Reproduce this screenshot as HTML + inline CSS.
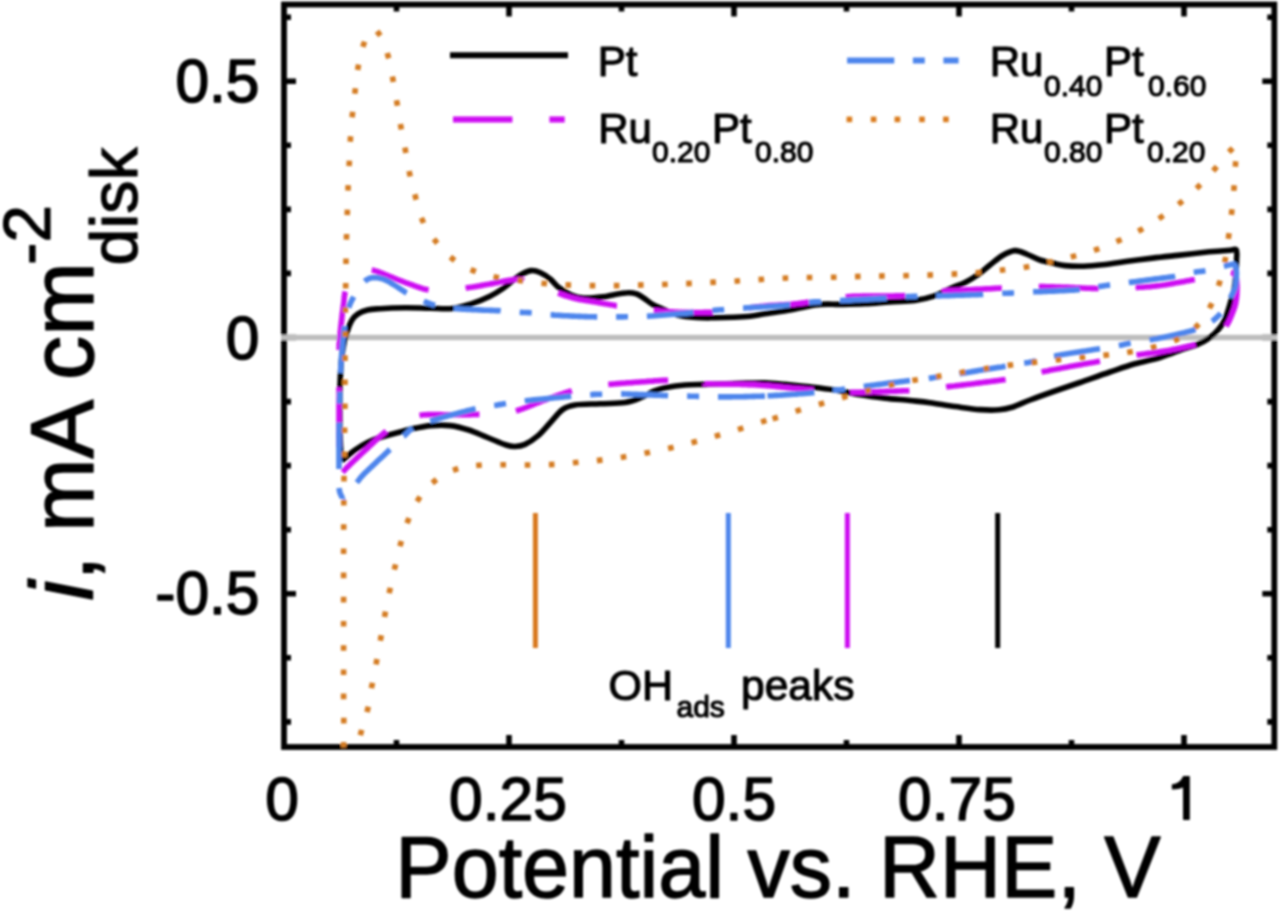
<!DOCTYPE html>
<html><head><meta charset="utf-8"><title>CV chart</title>
<style>html,body{margin:0;padding:0;background:#fff;width:1280px;height:914px;overflow:hidden}svg{display:block;font-family:"Liberation Sans",sans-serif}</style>
</head><body>
<svg width="1280" height="914" viewBox="0 0 1280 914">
<defs><filter id="soft" x="0" y="0" width="1280" height="914" filterUnits="userSpaceOnUse"><feGaussianBlur stdDeviation="0.8"/></filter></defs>
<rect width="1280" height="914" fill="#fff"/>
<g filter="url(#soft)">
<path d="M284,721.9h7M1274.3,721.9h-7M284,657.8h7M1274.3,657.8h-7M284,593.8h12M1274.3,593.8h-12M284,529.7h7M1274.3,529.7h-7M284,465.6h7M1274.3,465.6h-7M284,401.6h7M1274.3,401.6h-7M284,337.5h12M1274.3,337.5h-12M284,273.4h7M1274.3,273.4h-7M284,209.4h7M1274.3,209.4h-7M284,145.3h7M1274.3,145.3h-7M284,81.2h12M1274.3,81.2h-12M284,17.2h7M1274.3,17.2h-7M396.5,747v-7M396.5,4.5v7M509.0,747v-12M509.0,4.5v12M621.5,747v-7M621.5,4.5v7M734.0,747v-12M734.0,4.5v12M846.5,747v-7M846.5,4.5v7M959.0,747v-12M959.0,4.5v12M1071.5,747v-7M1071.5,4.5v7M1184.0,747v-12M1184.0,4.5v12" stroke="#000" stroke-width="5.6" fill="none"/>
<rect x="284" y="4.5" width="990.3" height="742.5" fill="none" stroke="#000" stroke-width="5.8"/>
<line x1="281" y1="337.6" x2="1277" y2="337.6" stroke="#BDBDBD" stroke-width="5.5"/>
<g fill="none" stroke-linejoin="round">
<path d="M341.5,461.0C341.3,457.5 340.5,448.5 340.2,440.0C339.9,431.5 339.8,419.2 339.8,410.0C339.8,400.8 339.7,393.3 340.0,385.0C340.3,376.7 340.8,367.0 341.5,360.0C342.2,353.0 343.0,348.0 344.0,343.0C345.0,338.0 346.4,333.8 347.7,330.0C349.0,326.2 350.3,322.7 352.0,320.0C353.7,317.3 355.4,315.6 358.0,313.9C360.6,312.2 363.8,310.9 367.5,310.0C371.2,309.1 373.8,309.1 380.0,308.7C386.2,308.3 396.7,307.9 405.0,307.8C413.3,307.7 422.1,308.2 430.0,308.3C437.9,308.4 445.6,309.3 452.5,308.5C459.4,307.7 465.0,305.8 471.2,303.8C477.5,301.7 484.8,298.8 490.0,296.2C495.2,293.8 498.3,291.7 502.5,288.8C506.7,285.8 511.7,281.2 515.0,278.8C518.3,276.2 519.8,275.1 522.5,273.8C525.2,272.4 528.3,270.8 531.2,270.6C534.2,270.4 536.9,271.1 540.0,272.5C543.1,273.9 546.9,276.2 550.0,278.8C553.1,281.2 555.2,284.8 558.8,287.5C562.3,290.2 567.1,293.2 571.2,295.0C575.4,296.8 578.5,297.8 583.8,298.1C589.0,298.4 597.3,297.5 602.5,296.9C607.7,296.3 610.8,295.1 615.0,294.4C619.2,293.7 624.0,292.9 627.5,292.8C631.0,292.6 633.5,292.9 636.2,293.8C639.0,294.6 641.0,296.3 643.8,298.1C646.5,299.9 649.4,302.6 652.5,304.4C655.6,306.2 658.3,307.2 662.5,309.0C666.7,310.8 671.9,313.6 677.5,315.0C683.1,316.4 690.0,317.0 696.2,317.5C702.5,318.0 708.8,317.8 715.0,317.8C721.2,317.7 727.9,317.5 733.8,317.2C739.6,317.0 744.8,316.8 750.0,316.2C755.2,315.7 758.3,314.8 765.0,313.8C771.7,312.7 783.8,311.0 790.0,310.0C796.2,309.0 798.3,308.3 802.5,307.5C806.7,306.7 810.8,305.6 815.0,305.0C819.2,304.4 823.3,304.2 827.5,304.1C831.7,304.0 833.8,304.5 840.0,304.4C846.2,304.3 856.7,304.2 865.0,303.8C873.3,303.3 881.7,302.5 890.0,301.9C898.3,301.3 907.7,301.3 915.0,300.4C922.3,299.5 927.5,298.4 933.8,296.2C940.0,294.1 947.3,289.8 952.5,287.5C957.7,285.2 960.8,284.6 965.0,282.5C969.2,280.4 973.3,277.9 977.5,275.0C981.7,272.1 985.8,268.2 990.0,265.0C994.2,261.8 998.3,257.9 1002.5,255.5C1006.7,253.1 1010.8,250.8 1015.0,250.6C1019.2,250.4 1023.3,252.9 1027.5,254.5C1031.7,256.1 1035.8,258.6 1040.0,260.0C1044.2,261.4 1048.3,262.2 1052.5,263.1C1056.7,264.0 1059.8,265.1 1065.0,265.6C1070.2,266.1 1077.5,266.4 1083.8,266.2C1090.0,266.1 1095.2,265.6 1102.5,264.8C1109.8,263.9 1119.2,262.4 1127.5,261.2C1135.8,260.1 1144.2,259.1 1152.5,258.1C1160.8,257.1 1168.0,256.4 1177.5,255.4C1187.0,254.3 1200.7,252.7 1209.4,251.8C1218.2,251.0 1225.5,250.6 1230.0,250.3C1234.5,250.0 1235.2,248.3 1236.3,249.9C1237.4,251.5 1236.7,255.5 1236.6,259.7C1236.5,263.9 1236.2,269.9 1235.8,275.0C1235.4,280.1 1234.8,285.8 1234.0,290.0C1233.2,294.2 1232.6,295.6 1231.1,300.4C1229.6,305.2 1227.3,314.0 1225.2,318.8C1223.1,323.6 1221.2,326.1 1218.6,329.3C1216.0,332.5 1212.9,335.4 1209.4,337.9C1205.9,340.4 1202.0,342.5 1197.6,344.4C1193.2,346.2 1189.4,346.8 1183.1,349.0C1176.8,351.2 1168.0,355.0 1160.0,357.5C1152.0,360.0 1143.3,361.3 1135.0,363.8C1126.7,366.2 1119.2,368.9 1110.0,372.0C1100.8,375.1 1089.2,379.3 1080.0,382.5C1070.8,385.7 1063.3,388.1 1055.0,391.0C1046.7,393.9 1037.2,397.3 1030.0,400.0C1022.8,402.7 1017.2,405.7 1012.0,407.3C1006.8,408.9 1004.3,409.4 999.0,409.8C993.7,410.2 987.3,410.2 980.0,409.6C972.7,409.1 963.3,407.6 955.0,406.5C946.7,405.4 937.5,403.7 930.0,402.7C922.5,401.7 917.5,401.3 910.0,400.5C902.5,399.7 893.3,399.1 885.0,398.1C876.7,397.2 868.3,396.2 860.0,394.8C851.7,393.4 843.3,391.3 835.0,390.0C826.7,388.7 818.3,387.8 810.0,386.9C801.7,386.0 792.5,385.1 785.0,384.4C777.5,383.7 771.2,383.0 765.0,382.8C758.8,382.6 754.6,382.9 747.5,383.1C740.4,383.3 729.8,383.5 722.5,383.8C715.2,384.0 710.0,384.2 703.8,384.4C697.5,384.6 691.2,384.5 685.0,385.0C678.8,385.5 671.5,386.5 666.2,387.5C661.0,388.5 657.9,389.6 653.8,391.2C649.6,392.9 646.0,395.6 641.2,397.5C636.5,399.4 631.9,401.5 625.0,402.5C618.1,403.5 608.3,403.3 600.0,403.8C591.7,404.2 581.2,404.0 575.0,405.0C568.8,406.0 566.7,406.6 562.5,409.6C558.3,412.6 554.2,418.6 550.0,423.0C545.8,427.4 541.7,432.7 537.5,436.2C533.3,439.8 528.8,442.7 525.0,444.4C521.2,446.1 518.1,446.4 515.0,446.5C511.9,446.6 510.8,446.5 506.2,445.0C501.7,443.5 493.8,440.0 487.5,437.5C481.2,435.0 475.0,432.0 468.8,430.0C462.5,428.0 456.2,426.3 450.0,425.6C443.8,424.9 437.5,425.1 431.2,425.6C425.0,426.1 417.7,427.7 412.5,428.8C407.3,429.9 405.4,430.6 400.0,432.0C394.6,433.4 385.4,435.8 380.0,437.5C374.6,439.2 371.7,440.4 367.5,442.5C363.3,444.6 358.4,447.7 355.0,450.0C351.6,452.3 349.2,454.7 347.0,456.5C344.8,458.3 342.4,460.2 341.5,461.0" stroke="#000" stroke-width="5.6"/>
<path d="M339.2,447.2L339.1,445.3L339.1,443.2L339.1,441.7L339.1,440.2L339.1,438.6L339.0,437.0L339.0,435.4L339.0,433.8L339.0,432.2L339.0,430.5L339.0,428.6L339.0,426.7L339.0,424.8L339.0,422.9L339.0,420.9L339.0,419.4L339.0,417.9L339.0,416.3L339.0,414.8L339.0,413.3L339.0,411.7L339.0,410.2L339.0,408.6L339.0,407.1L339.0,405.6L339.0,404.0L339.0,402.5L339.0,401.0L339.0,399.5L339.0,398.0L339.0,396.5L339.0,394.9L339.0,393.4L339.0,391.9L339.0,390.3L339.0,388.8L339.0,387.2L339.0,387.2M339.1,350.2L339.2,348.3L339.2,346.4L339.3,344.5L339.4,342.9L339.5,341.3L339.6,339.7L339.8,338.1L339.9,336.5L340.0,334.9L340.2,333.4L340.3,331.9L340.5,330.4L340.7,328.4L340.9,326.4L341.1,324.5L341.3,322.7L341.5,321.0L341.7,319.4L341.9,317.8L342.0,316.2L342.2,314.7L342.4,313.1L342.7,311.2L342.9,309.2L343.2,307.3L343.4,305.5L343.6,303.9L343.8,302.3L344.0,300.7L344.1,299.1L344.2,297.6L344.4,296.1L344.7,294.1L345.0,292.2L345.2,291.5M371.7,270.2L373.4,270.4L375.3,270.9L377.1,271.5L378.6,272.0L380.0,272.5L381.5,273.1L383.0,273.7L384.5,274.3L386.3,275.0L388.2,275.7L389.6,276.3L391.0,276.8L392.4,277.4L393.8,278.0L395.3,278.6L396.7,279.2L398.1,279.8L399.5,280.3L401.0,280.9L402.4,281.4L403.9,282.0L405.4,282.6L406.9,283.1L408.4,283.7L409.8,284.2L411.3,284.7L412.7,285.2L414.5,285.8L416.0,286.3L417.5,286.9L419.3,287.5L421.1,288.1L423.0,288.7L424.9,289.2L426.4,289.5L428.0,289.8L428.6,289.9M465.6,288.1L467.5,287.8L469.3,287.5L471.3,287.2L473.2,286.9L474.7,286.7L476.2,286.4L477.7,286.2L479.2,285.9L480.7,285.6L482.3,285.4L483.8,285.1L485.4,284.8L486.9,284.5L488.4,284.3L490.0,284.0L492.0,283.6L493.5,283.4L495.0,283.0L496.6,282.7L498.2,282.4L499.8,282.0L501.4,281.7L503.0,281.4L504.6,281.1L506.1,280.8L507.7,280.5L509.2,280.2L511.1,279.9L512.9,279.7L514.7,279.5L516.2,279.4L518.2,279.4L519.9,279.6L521.4,279.8L523.2,280.3L523.8,280.6M558.1,293.1L559.8,293.7L561.6,294.3L563.5,295.0L564.9,295.5L566.4,296.0L567.8,296.4L569.3,296.9L570.8,297.4L572.4,297.8L573.9,298.2L575.5,298.6L577.3,299.0L579.3,299.4L581.2,299.8L582.7,300.0L584.2,300.3L585.7,300.5L587.3,300.8L588.8,301.0L590.4,301.2L591.9,301.5L593.5,301.7L595.0,302.0L596.9,302.3L598.9,302.7L600.4,302.9L601.9,303.2L603.4,303.5L604.9,303.7L606.5,304.0L608.0,304.2L609.5,304.5L611.0,304.7L612.9,305.1L614.8,305.4L616.8,305.7L616.9,305.7M653.8,310.6L655.5,310.8L657.3,310.9L659.2,311.0L661.1,311.2L663.0,311.3L665.0,311.5L666.6,311.6L668.1,311.7L669.7,311.8L671.3,311.8L672.9,311.9L674.5,312.0L676.1,312.1L677.8,312.1L679.4,312.2L681.4,312.2L683.4,312.3L684.9,312.3L686.4,312.4L688.0,312.4L689.6,312.4L691.3,312.4L692.9,312.4L694.5,312.5L696.2,312.5L697.8,312.5L699.4,312.5L701.0,312.5L702.6,312.5L704.1,312.4L706.1,312.4L708.0,312.4L709.8,312.4L711.5,312.3L712.8,312.3M749.0,307.7L750.9,307.5L752.9,307.2L754.8,307.0L756.3,306.8L757.8,306.7L759.4,306.5L760.9,306.3L762.4,306.2L763.9,306.0L765.4,305.9L767.0,305.8L768.5,305.6L770.0,305.5L771.5,305.4L773.1,305.3L774.6,305.2L776.2,305.1L777.8,305.0L779.3,304.9L780.9,304.8L782.4,304.8L784.0,304.7L785.5,304.6L787.5,304.5L789.4,304.3L791.2,304.2L792.9,304.1L794.6,303.9L796.1,303.7L797.7,303.6L799.6,303.4L801.6,303.1L803.5,302.9L805.5,302.6L807.1,302.4L808.6,302.2L808.9,302.2M845.6,296.8L847.5,296.7L849.5,296.5L851.0,296.5L852.6,296.4L854.2,296.3L855.8,296.3L857.4,296.2L859.0,296.2L860.6,296.2L862.2,296.1L863.8,296.1L865.3,296.1L867.2,296.0L869.1,296.0L871.2,296.0L872.9,296.0L874.5,296.0L876.0,296.0L878.0,296.0L879.9,296.0L881.8,296.0L883.6,296.0L885.5,296.0L887.5,296.0L889.0,296.0L890.5,296.0L892.0,296.0L893.5,296.0L895.0,295.9L896.5,295.9L898.0,295.9L899.5,295.9L901.5,295.8L903.5,295.7L905.4,295.6M942.0,291.2L943.7,291.1L945.6,291.0L947.4,290.9L949.3,290.8L951.3,290.6L953.3,290.5L954.8,290.5L956.3,290.4L957.9,290.3L959.4,290.2L961.0,290.2L962.6,290.1L964.2,290.0L965.8,289.9L967.4,289.8L968.9,289.8L970.5,289.7L972.4,289.6L974.0,289.5L975.5,289.4L977.1,289.3L978.7,289.3L980.3,289.2L981.9,289.1L983.5,289.0L985.1,288.9L986.7,288.8L988.3,288.8L989.9,288.7L991.5,288.6L993.0,288.5L995.0,288.4L996.9,288.3L998.7,288.2L1000.4,288.1L1001.8,288.1M1038.8,286.5L1040.4,286.5L1042.2,286.6L1044.1,286.6L1046.0,286.7L1047.5,286.7L1049.1,286.7L1050.6,286.8L1052.2,286.8L1053.8,286.9L1055.4,287.0L1057.1,287.0L1058.7,287.1L1060.3,287.1L1061.9,287.2L1063.5,287.3L1065.0,287.3L1066.6,287.4L1068.6,287.4L1070.5,287.5L1072.1,287.6L1073.8,287.6L1075.4,287.7L1077.0,287.8L1078.6,287.8L1080.2,287.9L1081.8,288.0L1083.3,288.0L1084.9,288.1L1086.4,288.2L1087.9,288.2L1089.9,288.3L1091.8,288.4L1093.6,288.4L1095.4,288.5L1097.1,288.5L1098.7,288.5M1135.6,287.5L1137.4,287.4L1139.3,287.3L1141.1,287.2L1143.0,287.1L1144.8,287.0L1146.7,286.8L1148.7,286.7L1150.2,286.6L1151.7,286.4L1153.3,286.3L1154.9,286.1L1156.6,285.9L1158.3,285.7L1160.0,285.5L1161.8,285.3L1163.6,285.0L1165.6,284.7L1167.1,284.4L1168.6,284.2L1170.2,283.9L1171.8,283.6L1173.4,283.4L1175.0,283.1L1176.6,282.8L1178.3,282.5L1179.9,282.2L1181.4,281.9L1183.0,281.7L1184.6,281.4L1186.1,281.1L1188.0,280.7L1189.8,280.4L1191.6,280.1L1193.2,279.8L1194.8,279.5M1231.0,272.4L1232.6,272.8L1234.0,273.8L1235.2,275.3L1235.8,276.7L1236.4,278.4L1236.7,280.2L1236.9,282.1L1237.0,284.1L1237.1,285.6L1237.1,287.3L1237.0,288.9L1237.0,290.5L1236.9,292.4L1236.8,294.4L1236.7,295.9L1236.5,297.5L1236.4,299.0L1236.1,300.5L1235.9,302.0L1235.5,304.0L1235.1,305.5L1234.7,306.9L1234.2,308.4L1233.7,309.8L1233.2,311.2L1232.4,313.1L1231.7,314.9L1231.1,316.4L1230.5,317.8L1229.9,319.2L1229.3,320.6L1228.6,321.9L1227.9,323.3L1227.1,324.6L1226.2,325.8L1226.0,326.1M1195.6,344.4L1194.1,344.8L1192.5,345.2L1190.8,345.6L1188.9,346.0L1187.0,346.5L1185.5,346.8L1183.9,347.2L1182.3,347.5L1180.7,347.9L1179.1,348.2L1177.5,348.6L1175.9,348.9L1174.2,349.2L1172.6,349.5L1171.0,349.9L1169.5,350.2L1167.9,350.5L1166.4,350.7L1164.5,351.1L1162.9,351.4L1161.3,351.6L1159.7,351.9L1158.1,352.1L1156.5,352.4L1154.9,352.6L1153.3,352.8L1151.8,353.0L1150.2,353.2L1148.7,353.4L1147.2,353.6L1145.7,353.8L1143.7,354.1L1141.8,354.3L1140.0,354.6L1138.2,354.8L1136.5,355.1M1100.0,361.2L1098.3,361.5L1096.6,361.8L1094.7,362.2L1092.8,362.5L1091.3,362.8L1089.8,363.0L1088.3,363.3L1086.7,363.6L1085.1,363.8L1083.5,364.1L1081.9,364.4L1080.3,364.7L1078.7,364.9L1077.1,365.2L1075.5,365.5L1074.0,365.8L1072.5,366.1L1071.0,366.3L1069.5,366.6L1067.9,366.9L1066.4,367.2L1064.8,367.5L1063.2,367.8L1061.7,368.1L1060.1,368.4L1058.5,368.7L1056.9,369.0L1055.4,369.3L1053.9,369.5L1052.3,369.8L1050.9,370.1L1048.9,370.5L1047.0,370.9L1045.2,371.2L1043.5,371.6L1041.9,371.9L1041.5,372.0M1005.6,379.4L1003.9,379.7L1002.1,379.9L1000.3,380.2L998.3,380.5L996.8,380.7L995.3,380.9L993.8,381.1L992.2,381.3L990.6,381.5L989.0,381.7L987.4,381.9L985.8,382.1L984.2,382.3L982.7,382.5L981.1,382.7L979.5,382.9L978.0,383.1L976.5,383.3L974.5,383.6L972.9,383.8L971.3,384.0L969.7,384.2L968.1,384.3L966.5,384.5L964.9,384.7L963.3,384.9L961.7,385.1L960.1,385.3L958.6,385.5L957.0,385.6L955.5,385.8L954.0,386.0L952.1,386.2L950.2,386.4L948.4,386.6L946.7,386.8L946.1,386.9M909.4,390.6L907.7,390.7L905.9,390.8L904.0,390.8L902.1,390.9L900.1,391.0L898.5,391.0L897.0,391.1L895.4,391.1L893.8,391.2L892.2,391.2L890.6,391.3L889.0,391.3L887.4,391.4L885.8,391.4L884.2,391.5L882.6,391.5L881.0,391.6L879.5,391.6L878.0,391.7L876.5,391.7L874.9,391.8L873.3,391.8L871.7,391.9L870.1,391.9L868.5,392.0L866.9,392.0L865.3,392.0L863.8,392.1L862.2,392.1L860.7,392.2L859.1,392.2L857.2,392.2L855.2,392.3L853.4,392.3L851.7,392.3L850.2,392.3M813.8,390.0L811.9,389.9L810.0,389.7L808.1,389.6L806.1,389.4L804.6,389.3L803.1,389.1L801.5,389.0L800.0,388.9L798.4,388.7L796.8,388.6L795.2,388.5L793.7,388.3L792.1,388.2L790.5,388.0L789.0,387.9L787.1,387.7L785.1,387.5L783.1,387.3L781.6,387.1L780.1,387.0L778.6,386.8L777.1,386.6L775.6,386.5L774.1,386.3L772.5,386.2L771.0,386.0L769.5,385.9L768.0,385.7L766.5,385.6L765.0,385.5L765.0,385.5M765.0,385.5L763.0,385.4L761.1,385.2L759.2,385.1L757.3,385.0L755.5,384.9L753.6,384.8L751.7,384.7L749.7,384.6L748.2,384.6L746.7,384.5L745.1,384.5L743.5,384.4L741.8,384.4L740.0,384.3L738.2,384.3L736.4,384.2L734.4,384.2L732.9,384.2L731.3,384.1L729.7,384.1L728.1,384.1L726.5,384.1L724.9,384.1L723.2,384.1L721.6,384.1L719.9,384.1L718.3,384.0L716.7,384.0L715.2,384.0L713.6,384.0L712.1,384.0L710.2,383.9L708.3,383.9L706.6,383.8L705.0,383.8L705.0,383.7M668.1,380.3L666.4,380.3L664.6,380.4L662.8,380.4L660.9,380.5L658.9,380.6L657.4,380.7L655.9,380.8L654.3,380.9L652.8,381.1L651.2,381.2L649.6,381.3L648.0,381.4L646.4,381.5L644.8,381.7L643.2,381.8L641.6,381.9L640.0,382.0L638.0,382.1L636.5,382.2L635.0,382.3L633.4,382.5L631.9,382.6L630.3,382.7L628.7,382.8L627.1,382.9L625.5,383.0L623.9,383.2L622.3,383.3L620.7,383.4L619.2,383.5L617.7,383.6L615.7,383.8L613.8,384.0L612.0,384.1L610.2,384.3L608.3,384.5M571.9,390.8L570.3,391.3L568.5,391.8L566.7,392.4L564.9,393.0L563.0,393.6L561.5,394.1L560.1,394.6L558.6,395.1L557.1,395.7L555.6,396.2L554.0,396.7L552.5,397.3L551.0,397.8L549.5,398.4L548.0,398.9L546.5,399.5L545.0,400.0L543.1,400.7L541.7,401.2L540.3,401.8L538.8,402.4L537.4,402.9L535.9,403.5L534.4,404.1L532.9,404.7L531.4,405.3L530.0,405.9L528.5,406.5L527.1,407.1L525.6,407.6L524.2,408.1L522.4,408.8L520.6,409.4L518.9,410.0L517.3,410.5L515.9,410.9M479.4,414.4L477.7,414.4L475.9,414.5L474.0,414.5L472.1,414.5L470.6,414.6L469.0,414.6L467.5,414.6L465.9,414.6L464.3,414.6L462.7,414.6L461.1,414.6L459.5,414.6L457.9,414.6L456.3,414.6L454.7,414.7L453.1,414.7L451.5,414.7L450.0,414.7L448.5,414.7L447.0,414.7L445.4,414.7L443.8,414.7L442.2,414.7L440.6,414.6L439.1,414.6L437.5,414.6L435.9,414.6L434.3,414.5L432.7,414.5L431.2,414.5L429.7,414.6L427.7,414.6L425.8,414.7L424.0,414.8L422.2,415.0L420.6,415.2L419.5,415.4M386.2,431.2L384.9,432.3L383.5,433.5L382.0,434.7L380.5,436.0L379.3,437.0L378.2,438.1L377.0,439.2L375.8,440.3L374.7,441.4L373.5,442.5L372.3,443.6L371.2,444.7L370.0,445.8L368.9,446.8L367.8,447.9L366.4,449.2L365.0,450.5L363.7,451.7L362.5,452.8L361.2,454.0L360.0,455.1L358.7,456.3L357.5,457.4L356.3,458.6L355.2,459.7L354.0,460.7L352.9,461.8L351.5,463.1L350.3,464.3L349.1,465.5L347.4,467.1L346.2,468.3L344.8,469.8L343.8,470.9L342.8,472.1L342.6,472.3" stroke="#CE0CF2" stroke-width="5.6"/>
<path d="M342.5,498.0L341.6,496.3L340.9,494.9L340.2,493.3L339.6,491.6L339.3,489.7L339.2,488.0M339.0,469.0L339.0,467.1L339.0,465.4L339.0,463.5L339.0,461.5L339.0,459.9L339.0,458.3L339.0,456.7L339.0,455.0L339.0,453.3L339.0,451.6L339.0,450.0L339.0,448.3L339.0,446.7L339.0,445.1L339.0,443.6L339.0,441.7L339.0,440.0L339.0,438.2L339.0,436.4L339.0,434.8L339.0,433.2L339.1,431.7L339.1,429.8L339.1,427.9L339.1,426.1L339.2,424.2L339.2,422.5M339.5,403.7L339.6,401.9L339.6,400.4L339.7,398.4L339.8,396.5L339.8,394.6L339.9,392.6L339.9,391.8M340.5,373.0L340.6,371.2L340.7,369.4L340.8,367.4L340.9,365.4L341.0,363.9L341.1,362.4L341.2,360.8L341.3,359.3L341.4,357.7L341.5,356.2L341.6,354.6L341.8,353.0L341.9,351.5L342.0,350.0L342.1,348.5L342.3,346.9L342.4,345.3L342.6,343.7L342.7,342.1L342.9,340.5L343.1,338.9L343.2,337.3L343.4,335.7L343.6,334.2L343.8,332.2L344.0,330.3L344.2,328.6L344.4,327.0L344.5,326.2M348.6,307.7L349.2,306.3L349.9,304.4L350.7,302.6L351.4,301.2L352.0,299.9L352.8,298.5L353.7,296.8M364.7,281.4L366.1,280.2L367.4,279.4L369.1,278.5L370.9,277.9L372.8,277.6L374.3,277.5L376.0,277.6L377.8,277.8L379.7,278.2L381.3,278.6L382.9,279.0L384.5,279.6L386.2,280.4L387.9,281.2L389.6,282.2L390.9,283.0L392.2,283.8L393.6,284.6L395.0,285.5L396.6,286.5L398.3,287.6L399.6,288.5L400.9,289.3L402.2,290.2L403.5,291.0L404.8,291.9L406.5,292.9L406.7,293.0M423.8,301.2L425.2,301.8L426.6,302.4L428.0,303.0L429.9,303.7L431.3,304.2L433.2,304.8L435.0,305.3L435.0,305.3M453.8,308.5L455.4,308.6L457.2,308.8L459.1,308.9L460.6,309.0L462.1,309.1L463.7,309.2L465.3,309.3L467.0,309.4L468.6,309.4L470.2,309.5L471.9,309.6L473.5,309.7L475.1,309.8L476.6,309.8L478.6,309.9L480.6,310.0L482.2,310.1L483.9,310.2L485.5,310.2L487.0,310.3L488.6,310.3L490.1,310.4L492.1,310.4L494.1,310.5L496.0,310.6L497.9,310.6L499.8,310.7L500.7,310.8M519.7,312.3L521.3,312.4L522.9,312.5L524.7,312.5L526.4,312.5L528.3,312.6L530.0,312.7L531.7,312.8L531.7,312.8M550.6,314.8L552.5,314.9L554.4,315.1L556.4,315.2L557.9,315.3L559.5,315.4L561.0,315.5L562.6,315.6L564.2,315.7L565.8,315.8L567.3,315.8L568.9,315.9L570.5,316.0L572.0,316.1L573.5,316.1L575.5,316.2L577.1,316.3L578.6,316.4L580.2,316.4L581.7,316.5L583.3,316.5L584.8,316.6L586.3,316.6L587.8,316.7L589.8,316.7L591.8,316.8L593.7,316.8L595.6,316.9L597.2,316.9M616.1,316.9L618.2,316.9L619.8,316.9L621.6,316.9L623.2,316.9L625.1,316.8L626.8,316.8L628.0,316.8M646.9,316.2L648.8,316.1L650.7,316.0L652.6,315.9L654.6,315.7L656.1,315.6L657.7,315.5L659.2,315.4L660.7,315.3L662.3,315.1L663.8,315.0L665.4,314.9L666.9,314.7L668.5,314.6L670.0,314.5L671.5,314.4L673.0,314.3L674.6,314.1L676.1,314.0L677.7,313.9L679.2,313.8L680.8,313.6L682.4,313.5L683.9,313.4L685.5,313.2L687.0,313.1L688.5,313.0L690.4,312.8L692.4,312.6L693.5,312.5M712.3,310.5L714.4,310.3L716.1,310.1L717.9,310.0L719.6,309.8L721.5,309.7L723.1,309.6L724.2,309.5M743.1,308.1L744.9,308.0L746.8,307.8L748.8,307.7L750.3,307.6L751.9,307.5L753.5,307.4L755.1,307.3L756.7,307.2L758.4,307.1L760.0,307.0L761.6,306.9L763.2,306.8L764.7,306.7L766.2,306.6L768.2,306.4L770.0,306.3L771.7,306.2L773.4,306.1L775.0,306.0L776.5,305.9L778.0,305.8L780.0,305.6L781.9,305.5L783.8,305.4L785.7,305.2L787.6,305.0L789.5,304.8L790.1,304.8M809.0,302.3L810.7,302.2L812.3,302.0L814.2,301.9L815.8,301.9L817.7,301.8L819.3,301.8L821.0,301.7M840.0,300.6L841.8,300.5L843.7,300.4L845.7,300.3L847.2,300.2L848.7,300.1L850.3,300.1L851.8,300.0L853.4,299.9L855.0,299.8L856.5,299.7L858.1,299.7L859.6,299.6L861.1,299.5L863.1,299.4L865.0,299.3L866.6,299.2L868.2,299.1L869.8,299.0L871.4,299.0L873.0,298.9L874.5,298.8L876.0,298.7L877.6,298.6L879.1,298.6L881.1,298.4L883.0,298.3L885.0,298.2L886.6,298.1M905.5,296.7L907.6,296.6L909.2,296.5L911.0,296.5L912.6,296.4L914.5,296.4L916.2,296.3L917.4,296.3M936.2,296.0L938.1,295.9L940.0,295.9L942.0,295.8L943.5,295.8L945.1,295.7L946.6,295.7L948.2,295.6L949.7,295.6L951.3,295.5L952.8,295.5L954.4,295.4L955.9,295.3L957.5,295.3L959.0,295.2L960.5,295.2L962.0,295.1L963.6,295.1L965.1,295.0L966.7,295.0L968.2,294.9L969.8,294.9L971.3,294.8L972.8,294.8L974.4,294.7L975.9,294.7L977.8,294.6L979.8,294.5L981.7,294.5L983.2,294.4M1002.2,293.3L1003.8,293.2L1005.4,293.2L1007.2,293.2L1008.8,293.1L1010.6,293.1L1012.4,293.0L1014.1,293.0M1033.1,291.9L1034.9,291.8L1036.9,291.7L1038.4,291.7L1039.9,291.6L1041.5,291.6L1043.1,291.5L1044.7,291.4L1046.3,291.4L1047.9,291.3L1049.5,291.3L1051.1,291.2L1052.7,291.1L1054.2,291.1L1055.8,291.0L1057.7,290.9L1059.6,290.8L1061.2,290.7L1062.8,290.7L1064.4,290.6L1065.9,290.5L1067.8,290.4L1069.7,290.3L1071.6,290.2L1073.4,290.1L1075.4,290.0L1077.4,289.8L1078.9,289.6L1079.7,289.5M1098.3,286.7L1099.9,286.4L1101.4,286.2L1103.0,285.9L1104.5,285.7L1106.0,285.5L1107.5,285.3L1109.0,285.1L1110.1,285.0M1128.8,282.5L1130.3,282.3L1131.9,282.1L1133.4,281.9L1134.9,281.7L1136.4,281.5L1137.9,281.3L1139.4,281.1L1140.9,280.9L1142.4,280.7L1143.9,280.5L1145.4,280.3L1147.0,280.1L1148.5,279.9L1150.0,279.7L1151.5,279.5L1153.0,279.3L1154.5,279.1L1156.1,278.9L1157.6,278.7L1159.2,278.5L1160.7,278.3L1162.3,278.1L1163.8,277.9L1165.4,277.7L1166.9,277.5L1168.4,277.3L1169.9,277.1L1171.9,276.8L1173.8,276.6L1175.2,276.3M1193.7,272.3L1195.7,272.0L1197.3,271.7L1199.1,271.5L1200.8,271.4L1202.6,271.2L1204.2,270.9L1205.5,270.7M1223.9,266.3L1225.6,265.9L1227.4,265.4L1228.9,265.0L1230.6,264.7L1232.2,264.3L1234.0,264.4L1235.2,265.5L1235.9,267.5L1236.2,269.3L1236.4,270.8L1236.5,272.7L1236.5,274.3L1236.4,275.9L1236.3,277.5L1236.3,279.1L1236.1,281.1L1236.0,282.6L1235.8,284.6L1235.4,286.5L1235.0,288.0L1234.3,289.8L1233.7,291.2L1233.1,292.6L1232.3,294.1L1231.6,295.5L1230.9,296.9L1230.4,297.9M1220.6,313.4L1219.5,314.6L1218.5,315.7L1217.3,316.8L1216.2,317.9L1215.0,318.9L1213.9,319.9L1212.3,321.1L1212.0,321.3M1195.6,329.6L1194.1,330.0L1192.5,330.5L1190.7,331.0L1188.7,331.5L1187.2,331.9L1185.7,332.3L1184.1,332.7L1182.5,333.0L1180.9,333.4L1179.2,333.8L1177.6,334.2L1176.0,334.6L1174.5,334.9L1173.0,335.3L1171.5,335.6L1170.0,335.9L1168.5,336.3L1167.0,336.6L1165.4,336.9L1163.9,337.2L1162.4,337.5L1160.9,337.8L1159.4,338.1L1157.9,338.4L1156.0,338.8L1154.0,339.1L1152.2,339.5L1150.3,339.8L1149.5,340.0M1130.7,343.1L1128.8,343.4L1127.2,343.8L1125.5,344.1L1123.8,344.5L1121.8,344.9L1120.1,345.3L1118.8,345.5M1100.0,348.8L1098.2,349.0L1096.3,349.3L1094.3,349.6L1092.8,349.8L1091.3,350.1L1089.7,350.3L1088.1,350.5L1086.6,350.8L1085.0,351.0L1083.4,351.2L1081.9,351.4L1080.4,351.7L1078.8,351.9L1076.9,352.2L1075.0,352.5L1073.4,352.8L1071.8,353.0L1070.2,353.3L1068.7,353.5L1067.2,353.8L1065.6,354.0L1064.2,354.3L1062.2,354.6L1060.3,355.0L1058.4,355.3L1056.5,355.7L1054.7,356.1L1054.0,356.2M1035.8,360.9L1034.0,361.3L1032.1,361.7L1030.4,362.0L1028.7,362.4L1026.7,362.7L1025.0,363.0L1024.2,363.1M1005.6,366.2L1003.8,366.5L1001.9,366.9L999.9,367.2L998.4,367.4L996.9,367.6L995.3,367.9L993.8,368.1L992.2,368.4L990.7,368.6L989.1,368.9L987.6,369.1L986.0,369.4L984.5,369.6L983.0,369.8L981.5,370.1L979.9,370.3L978.4,370.6L976.8,370.9L975.3,371.1L973.7,371.4L972.2,371.6L970.7,371.9L969.1,372.2L967.6,372.4L966.1,372.7L964.6,372.9L962.7,373.2L960.8,373.5L959.4,373.8M940.6,376.4L938.8,376.7L937.3,376.9L935.5,377.3L933.8,377.6L932.0,377.9L930.5,378.1L928.8,378.4M910.0,380.6L908.2,380.8L906.3,381.0L904.3,381.3L902.9,381.5L901.3,381.6L899.8,381.8L898.3,382.0L896.7,382.2L895.2,382.4L893.6,382.6L892.0,382.8L890.5,382.9L889.0,383.1L887.5,383.3L885.5,383.6L884.0,383.8L882.4,384.0L880.9,384.2L879.3,384.4L877.8,384.6L876.2,384.8L874.7,385.0L873.2,385.2L871.7,385.4L870.2,385.6L868.2,385.8L866.3,386.1L864.5,386.3L863.7,386.4M845.0,389.0L843.2,389.2L841.3,389.5L839.6,389.7L837.9,389.9L835.9,390.1L834.0,390.3L833.1,390.4M814.4,392.6L812.5,392.8L810.6,392.9L808.7,393.1L807.1,393.2L805.6,393.4L804.1,393.5L802.5,393.6L801.0,393.7L799.4,393.8L797.8,393.9L796.3,394.1L794.7,394.2L793.1,394.3L791.6,394.4L790.0,394.5L788.0,394.6L786.0,394.8L784.5,394.9L783.0,395.0L781.5,395.1L780.0,395.2L778.5,395.3L777.0,395.4L775.5,395.4L774.0,395.5L772.4,395.6L770.9,395.7L769.0,395.8L767.5,395.9M765.0,396.0L763.5,396.1L761.9,396.1L760.4,396.2L758.9,396.2L757.4,396.3L755.9,396.3L754.4,396.4L752.4,396.4L750.4,396.5L748.4,396.5L746.4,396.6L744.5,396.6L742.5,396.7L740.5,396.7L739.0,396.7L737.4,396.8L735.9,396.8L734.4,396.8L732.8,396.8L731.3,396.9L729.7,396.9L728.2,396.9L726.7,396.9L725.2,396.9L723.2,396.9L721.3,396.9L719.4,396.9L718.0,396.9M699.1,396.4L697.4,396.4L695.7,396.3L693.8,396.3L692.2,396.2L690.4,396.2L688.8,396.1L687.1,396.1L687.1,396.1M668.1,395.6L666.2,395.5L664.3,395.5L662.4,395.4L660.4,395.3L658.9,395.3L657.3,395.2L655.8,395.1L654.3,395.1L652.7,395.0L651.2,394.9L649.6,394.9L648.1,394.8L646.5,394.8L645.0,394.7L643.5,394.6L642.0,394.6L640.4,394.5L638.9,394.5L637.3,394.4L635.8,394.3L634.2,394.3L632.6,394.2L631.1,394.2L629.5,394.1L628.0,394.1L626.5,394.0L624.6,394.0L622.6,393.9L621.1,393.9M602.2,394.2L600.6,394.2L599.0,394.3L597.2,394.3L595.6,394.4L593.7,394.4L591.9,394.6L590.2,394.7M571.2,396.2L569.3,396.4L567.4,396.6L565.4,396.8L563.9,396.9L562.4,397.1L560.8,397.2L559.3,397.4L557.7,397.5L556.2,397.7L554.6,397.8L553.1,398.0L551.6,398.1L550.0,398.3L548.5,398.5L547.0,398.6L545.5,398.7L543.9,398.9L542.4,399.0L540.9,399.2L539.3,399.3L537.8,399.5L536.3,399.6L534.7,399.8L533.2,399.9L531.7,400.1L529.8,400.3L527.8,400.5L525.9,400.7L524.7,400.8M506.0,403.5L504.3,403.8L502.7,404.1L500.9,404.4L499.3,404.6L497.4,405.0L495.7,405.3L494.2,405.5M475.6,408.8L473.7,409.2L471.8,409.6L469.9,410.1L468.4,410.4L466.9,410.8L465.5,411.2L463.9,411.6L462.4,412.0L460.9,412.4L459.4,412.8L457.9,413.2L456.4,413.6L454.9,414.0L453.5,414.4L452.0,414.8L450.5,415.2L449.0,415.6L447.4,416.0L445.9,416.5L444.3,416.9L442.8,417.4L441.3,417.8L439.8,418.2L438.3,418.7L436.4,419.2L434.6,419.8L432.9,420.3L431.2,420.8L430.2,421.1M412.5,428.1L411.2,429.0L409.9,430.1L408.8,431.2L407.5,432.5L406.1,433.9L405.0,435.0L403.9,436.1L403.7,436.2M390.0,449.4L388.9,450.4L387.8,451.5L386.7,452.6L385.5,453.6L384.4,454.7L383.3,455.8L382.1,456.8L381.0,457.9L379.9,458.9L378.4,460.2L377.0,461.6L375.7,462.9L374.2,464.3L373.0,465.4L371.7,466.6L370.5,467.7L369.4,468.8L368.2,469.9L367.1,471.0L365.7,472.3L364.4,473.6L363.3,474.7L362.1,476.0L361.0,477.2L359.9,478.6L358.9,479.9L357.6,481.5L356.7,482.5M344.2,496.7L342.8,497.8L342.5,498.0" stroke="#4E85EC" stroke-width="5.6"/>
<path d="M343.6,747.6L343.6,742.0M343.8,723.4L343.8,717.8M343.6,699.2L343.6,693.6M343.6,675.0L343.6,669.4M343.6,650.8L343.6,645.2M343.6,626.6L343.6,621.0M343.6,602.4L343.6,596.8M343.6,578.2L343.6,572.6M343.6,554.0L343.6,548.4M343.7,529.8L343.7,524.2M343.8,505.6L343.8,500.0M344.0,481.4L344.0,475.8M344.4,457.2L344.4,451.6M344.6,433.1L344.6,427.5M344.9,409.1L344.9,403.5M345.0,385.0L345.0,379.4M345.0,360.9L345.0,355.3M345.2,336.9L345.2,331.3M345.4,312.8L345.4,307.2M345.7,288.4L345.7,282.9M346.0,264.1L346.0,258.5M346.4,239.6L346.6,234.0M347.2,215.2L347.4,209.6M348.0,190.7L348.2,185.1M349.1,166.2L349.4,160.6M350.2,141.8L350.6,136.2M352.1,117.4L352.7,111.8M354.8,93.8L355.4,88.2M357.6,70.1L358.6,64.6M362.8,46.9L364.6,41.7M377.0,31.2L380.4,35.6M387.2,53.0L388.8,58.4M392.4,76.5L393.4,82.0M396.5,100.2L397.5,105.8M400.4,123.9L401.4,129.4M404.9,147.4L405.9,152.9M409.1,171.0L410.2,176.5M414.8,194.3L416.2,199.7M421.4,217.9L423.6,223.0M433.8,239.0L437.3,243.3M450.3,257.0L454.7,260.5M470.6,269.6L475.8,271.7M493.5,276.7L499.0,277.8M517.4,280.2L523.0,280.9M541.4,283.3L547.0,283.8M565.5,284.9L571.1,285.1M589.7,285.6L595.3,285.6M613.8,285.6L619.4,285.6M638.0,285.1L643.6,284.9M662.1,284.5L667.7,284.3M686.2,283.6L691.8,283.4M710.3,282.4L715.9,282.1M734.5,281.2L740.0,280.8M758.5,279.6L764.1,279.2M782.6,278.2L788.2,278.0M806.7,277.5L812.3,277.5M830.9,277.3L836.5,277.2M855.0,276.6L860.6,276.4M879.1,276.1L884.7,275.9M903.3,275.7L908.9,275.5M927.4,275.1L933.0,274.9M951.6,274.1L957.2,273.9M975.7,272.8L981.3,272.3M999.8,270.3L1005.3,269.7M1023.7,267.4L1029.3,266.4M1047.4,262.6L1052.8,261.4M1070.8,257.0L1076.2,255.6M1094.0,250.4L1099.3,248.6M1116.4,241.7L1121.6,239.5M1138.2,231.3L1143.1,228.6M1158.8,218.7L1163.5,215.5M1178.4,204.4L1182.7,200.9M1196.5,188.5L1200.5,184.5M1213.1,170.8L1216.9,166.6M1228.8,152.1L1232.8,148.2M1235.7,161.2L1235.3,166.8M1234.2,185.3L1233.8,190.9M1232.0,209.3L1231.4,214.9M1229.1,233.2L1228.3,238.8M1225.7,257.0L1224.7,262.4M1220.2,280.5L1218.5,285.8M1212.0,303.2L1209.4,308.2M1198.9,324.0L1194.9,328.0M1179.1,338.6L1174.1,341.0M1156.4,346.4L1150.9,347.8M1132.8,351.4L1127.2,352.4M1109.0,354.7L1103.4,355.4M1085.2,357.2L1079.6,357.8M1061.3,359.5L1055.7,360.0M1037.2,361.9L1031.6,362.6M1013.2,364.7L1007.6,365.4M989.2,368.1L983.6,368.9M965.3,371.8L959.7,372.7M941.5,375.8L936.0,376.7M917.8,379.6L912.3,380.6M894.2,384.3L888.7,385.6M870.8,389.9L865.4,391.3M847.4,396.1L842.0,397.7M824.2,402.9L818.8,404.5M800.9,409.7L795.6,411.4M777.9,417.3L772.6,418.9M766.4,420.4L761.1,422.1M743.3,427.9L737.9,429.6M720.2,434.8L714.8,436.4M697.0,441.3L691.5,442.7M673.6,447.2L668.1,448.4M650.0,452.2L644.5,453.3M626.3,456.5L620.8,457.4M602.5,459.9L596.9,460.6M578.5,462.2L572.9,462.7M554.5,464.4L548.9,464.6M530.3,465.0L524.7,465.0M506.0,464.7L500.4,464.8M481.8,465.0L476.2,465.5M458.2,468.5L453.0,470.3M436.6,479.5L432.2,483.0M420.1,496.8L417.0,501.5M409.0,518.0L407.0,523.2M401.4,540.9L399.9,546.3M395.6,564.3L394.3,569.7M390.3,587.8L389.2,593.3M385.5,611.4L384.5,617.0M381.3,635.3L380.3,640.8M377.0,659.1L376.0,664.6M372.5,682.8L371.4,688.3M368.3,706.6L367.0,712.1M361.7,729.9L360.3,735.3" stroke="#D47C24" stroke-width="5.6"/>
</g>
<g stroke-width="5"><line x1="535.4" y1="513" x2="535.4" y2="648" stroke="#D8781C"/><line x1="728.3" y1="513" x2="728.3" y2="648" stroke="#4E85EC"/><line x1="847.4" y1="513" x2="847.4" y2="648" stroke="#CE0CF2"/><line x1="997.7" y1="513" x2="997.7" y2="648" stroke="#000"/></g>
<g stroke-width="6"><line x1="450" y1="55.2" x2="568" y2="55.2" stroke="#000"/><path d="M453,119.5H512.4M549.4,119.5H564.7" stroke="#CE0CF2"/><path d="M847.1,60.5H894.3M912.9,60.5H924.8M943.4,60.5H958.6" stroke="#4E85EC"/></g>
<g fill="#DA7A1E"><rect x="846.6" y="116.6" width="5.6" height="5.6"/><rect x="870.8" y="116.6" width="5.6" height="5.6"/><rect x="894.6" y="116.6" width="5.6" height="5.6"/><rect x="919.2" y="116.6" width="5.6" height="5.6"/><rect x="943.1" y="116.6" width="5.6" height="5.6"/></g>
<g font-family="Liberation Sans" fill="#000" stroke="#000" stroke-linejoin="round" stroke-width="1.15">
<g font-size="60.5" text-anchor="end" stroke-width="1.5"><text x="259.5" y="101.5">0.5</text><text x="259.5" y="358.6">0</text><text x="259.5" y="613.6">-0.5</text></g>
<g font-size="60.5" text-anchor="middle" stroke-width="1.5"><text x="282" y="819.5">0</text><text x="508" y="819.5">0.25</text><text x="734" y="819.5">0.5</text><text x="957" y="819.5">0.75</text></g>
<path d="M1183.6,776.5H1189.2V819.3H1183.6V786.6C1181,788.3 1177,788.8 1172.4,788.8V784.7C1177.5,784.5 1181.5,781 1183.6,776.5Z" fill="#000"/>
<text transform="translate(395.3,896.7) scale(1,1.03)" font-size="84.5" stroke-width="1.4">Potential vs. RHE, V</text>
<g transform="translate(93,600.5) rotate(-90)"><text font-size="89.5" stroke-width="1.4"><tspan font-style="italic">i</tspan>,</text></g><g transform="translate(93,532) rotate(-90)"><text font-size="88.3" stroke-width="1.4">mA cm</text></g>
<g transform="translate(49.5,265) rotate(-90)"><text font-size="67.5" stroke-width="1.2">-2</text></g>
<g transform="translate(136.5,265.5) rotate(-90)"><text font-size="66.5" stroke-width="1.2">disk</text></g>
<text x="597.8" y="76.1" font-size="42">Pt</text>
<text x="598.2" y="143.4" font-size="42">Ru</text><text x="652" y="161.5" font-size="30">0.20</text><text x="712" y="143.4" font-size="42">Pt</text><text x="755" y="161.5" font-size="30">0.80</text>
<text x="989.7" y="75.9" font-size="42">Ru</text><text x="1044" y="95.6" font-size="30">0.40</text><text x="1104" y="75.9" font-size="42">Pt</text><text x="1148" y="95.6" font-size="30">0.60</text>
<text x="989.7" y="143.4" font-size="42">Ru</text><text x="1044" y="161.6" font-size="30">0.80</text><text x="1104" y="143.4" font-size="42">Pt</text><text x="1147" y="161.6" font-size="30">0.20</text>
<text x="608.5" y="700.3" font-size="43">OH</text><text x="676.5" y="716.7" font-size="30">ads</text><text x="741" y="700.3" font-size="42.5">peaks</text>
</g>
</g>
</svg>
</body></html>
